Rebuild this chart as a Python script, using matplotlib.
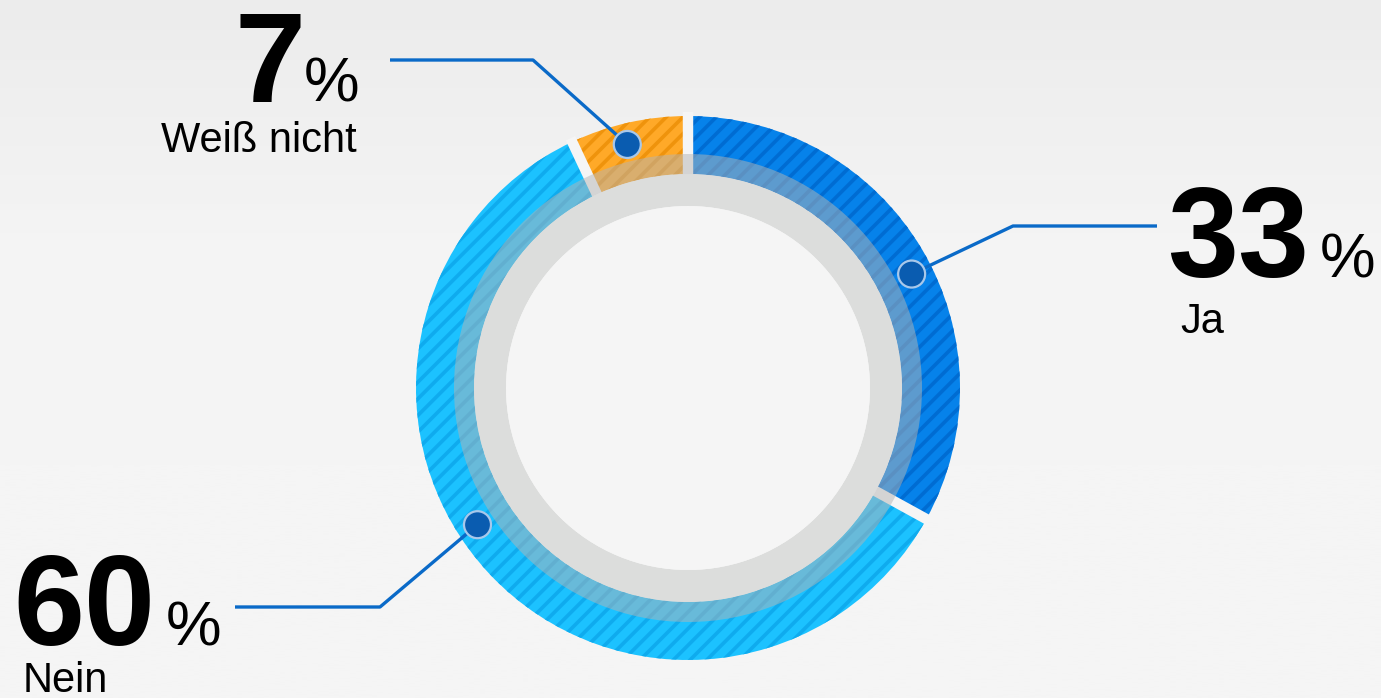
import numpy as np
import matplotlib
matplotlib.use("Agg")
import matplotlib.pyplot as plt
from matplotlib.patches import Circle, Wedge
from matplotlib.colors import LinearSegmentedColormap

# ---- data ----
categories = ["Ja", "Nein", "Weiß nicht"]
values = [33, 60, 7]
value_labels = ["33", "60", "7"]

# ---- style / layout ----
face_colors = ["#0682ea", "#1cc2ff", "#ffa928"]
stripe_colors = ["#006cd2", "#0fabee", "#ef930c"]
W, H = 1381, 698
cx, cy = 688, 698 - 388
R_out, ring_w = 272, 58
dot_angles = [27, 213, 104]
dot_r = 251
line_color = "#0a6ac8"
bg = "#f5f5f5"

plt.rcParams['font.family'] = ['Liberation Sans', 'DejaVu Sans']
plt.rcParams['hatch.linewidth'] = 2.6

fig = plt.figure(figsize=(W / 100, H / 100), dpi=100)
fig.patch.set_facecolor(bg)
ax = fig.add_axes([0, 0, 1, 1])

# background gradient (darker at the very top)
grad = np.linspace(0, 1, 256).reshape(-1, 1)
cmap = LinearSegmentedColormap.from_list("bg", ["#ececec", "#f4f4f4", "#f5f5f5", "#f5f5f5"])
ax.imshow(grad, extent=[0, W, H, 0], origin="lower", cmap=cmap, aspect="auto", zorder=0)

# base fill
wedges, _ = ax.pie(values, colors=face_colors, startangle=90, counterclock=False,
                   center=(cx, cy), radius=R_out, frame=True,
                   wedgeprops=dict(width=ring_w, linewidth=0))
for w in wedges:
    w.set_zorder(2)
# stripes
hw, _ = ax.pie(values, colors=face_colors, startangle=90, counterclock=False,
               center=(cx, cy), radius=R_out, frame=True,
               wedgeprops=dict(width=ring_w, linewidth=0))
for w, sc in zip(hw, stripe_colors):
    w.set_facecolor("none")
    w.set_edgecolor(sc)
    w.set_hatch("//")
    w.set_linewidth(0)
    w.set_zorder(3)

ax.set_xlim(0, W)
ax.set_ylim(0, H)
ax.set_aspect("auto")
ax.axis("off")

# gaps between segments
bounds = 90 - np.cumsum([0] + values) * 3.6
for b in bounds[:-1]:
    t = np.deg2rad(b)
    r0, r1 = R_out - ring_w - 2, R_out + 4
    ax.plot([cx + r0 * np.cos(t), cx + r1 * np.cos(t)],
            [cy + r0 * np.sin(t), cy + r1 * np.sin(t)],
            color=bg, lw=7.5, solid_capstyle="butt", zorder=4)

# inner gray ring and translucent overlay
r_in = R_out - ring_w
ax.add_patch(Wedge((cx, cy), r_in, 0, 360, width=r_in - 182, facecolor="#dcdddc",
                   edgecolor="none", zorder=5))
ax.add_patch(Wedge((cx, cy), r_in + 20, 0, 360, width=20, facecolor="#b4b4b4",
                   alpha=0.5, edgecolor="none", zorder=5))
ax.add_patch(Circle((cx, cy), 182, facecolor=bg, edgecolor="none", zorder=5))

# leader lines (elbow, end) in pixel coordinates
elbows = [(1013, 226), (380, 607), (533, 60)]
ends = [(1157, 226), (235, 607), (390, 60)]
for ang, el, en in zip(dot_angles, elbows, ends):
    t = np.deg2rad(ang)
    dx, dy = cx + dot_r * np.cos(t), cy + dot_r * np.sin(t)
    ax.plot([dx, el[0], en[0]], [dy, H - el[1], H - en[1]], color=line_color,
            lw=2.4, solid_capstyle="butt", zorder=6)
    ax.add_patch(Circle((dx, dy), 13.5, facecolor="#0a5cb0", edgecolor="#a8c8ea",
                        lw=1.6, zorder=7))

# labels
num_fs, pct_fs, lab_fs = 92, 45, 30
# Ja
ax.text(1167, H - 277, value_labels[0], fontsize=num_fs, fontweight="bold", ha="left", va="baseline", zorder=8)
ax.text(1320, H - 277, "%", fontsize=pct_fs, ha="left", va="baseline", zorder=8)
ax.text(1180, H - 333, categories[0], fontsize=lab_fs, ha="left", va="baseline", zorder=8)
# Nein
ax.text(13, H - 645, value_labels[1], fontsize=num_fs, fontweight="bold", ha="left", va="baseline", zorder=8)
ax.text(166, H - 645, "%", fontsize=pct_fs, ha="left", va="baseline", zorder=8)
ax.text(23, H - 692, categories[1], fontsize=lab_fs, ha="left", va="baseline", zorder=8)
# Weiß nicht
ax.text(235, H - 102, value_labels[2], fontsize=num_fs, fontweight="bold", ha="left", va="baseline", zorder=8)
ax.text(304, H - 102, "%", fontsize=pct_fs, ha="left", va="baseline", zorder=8)
ax.text(357, H - 152, categories[2], fontsize=lab_fs, ha="right", va="baseline", zorder=8)

fig.savefig("out.png", dpi=100, facecolor=fig.get_facecolor())
